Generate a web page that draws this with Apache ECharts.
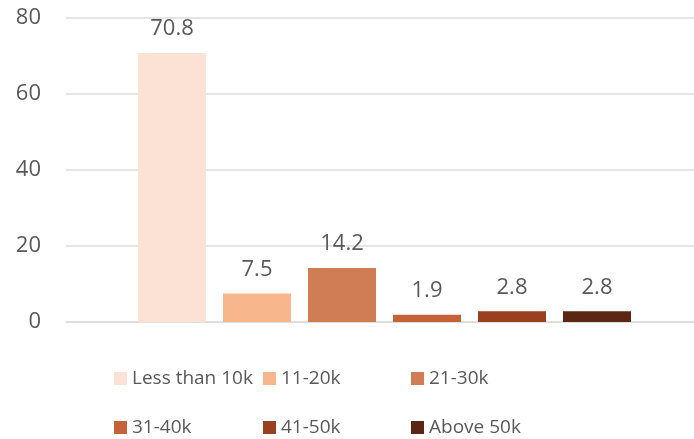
<!DOCTYPE html>
<html>
<head>
<meta charset="utf-8">
<script src="https://cdn.jsdelivr.net/npm/echarts@6/dist/echarts.min.js"></script>
<style>
  html, body { margin: 0; padding: 0; background: #ffffff; }
  #chart { width: 694px; height: 439px; }
</style>
</head>
<body>
<div id="chart"></div>
<script>
// Income bands (one series each, single category group)
const bands = ['Less than 10k', '11-20k', '21-30k', '31-40k', '41-50k', 'Above 50k'];
const shares = [70.8, 7.5, 14.2, 1.9, 2.8, 2.8];
const bandColors = ['#FBE2D5', '#F8B68C', '#D07D55', '#C6623A', '#98401F', '#5C2614'];
const yTicks = [0, 20, 40, 60, 80];

const textColor = '#595959';
const font = 'Open Sans';

const series = bands.map((name, i) => ({
  name: name,
  type: 'bar',
  data: [shares[i]],
  barWidth: 68,
  barGap: '25%',
  itemStyle: { color: bandColors[i] },
  label: {
    show: true,
    position: 'top',
    distance: 13,
    color: textColor,
    fontFamily: font,
    fontSize: 22
  }
}));

// Legend: one entry per component, placed on a 3-column, 2-row layout
const legendLeft = [109, 258, 406];
const legendTop = [364, 413];
const legends = bands.map((name, i) => ({
  left: legendLeft[i % 3],
  top: legendTop[Math.floor(i / 3)],
  itemWidth: 13,
  itemHeight: 13,
  icon: 'rect',
  selectedMode: false,
  data: [name],
  textStyle: { color: textColor, fontFamily: font, fontSize: 19 }
}));

const chart = echarts.init(document.getElementById('chart'));
chart.setOption({
  animation: false,
  backgroundColor: '#ffffff',
  grid: { left: 66, top: 18, width: 637, height: 304, containLabel: false, outerBoundsMode: 'none' },
  xAxis: {
    type: 'category',
    data: [''],
    axisLine: { show: true, lineStyle: { color: '#dcdcdc', width: 1.5 } },
    axisTick: { show: false },
    axisLabel: { show: false }
  },
  yAxis: {
    type: 'value',
    min: yTicks[0],
    max: yTicks[yTicks.length - 1],
    interval: yTicks[1] - yTicks[0],
    axisLine: { show: false },
    axisTick: { show: false },
    splitLine: { lineStyle: { color: '#dcdcdc', width: 1.5 } },
    axisLabel: { color: textColor, fontFamily: font, fontSize: 22, margin: 25 }
  },
  legend: legends,
  series: series
});
</script>
</body>
</html>
